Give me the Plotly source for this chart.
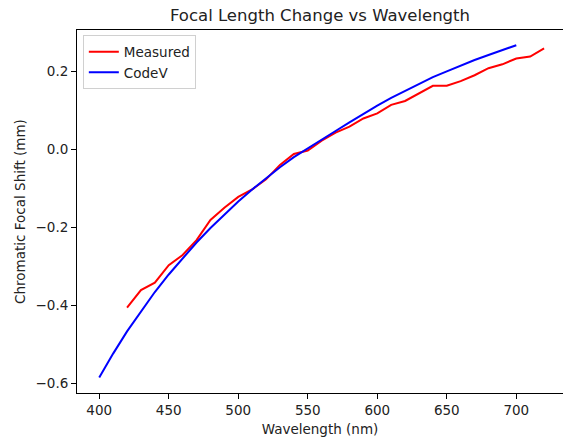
import plotly.graph_objects as go

# Measured data (nm, mm)
measured_wl = [420, 430, 440, 450, 460, 470, 480, 490, 500, 510, 520, 530, 540, 550,
               560, 570, 580, 590, 600, 610, 620, 630, 640, 650, 660, 670, 680, 690,
               700, 710, 720]
measured_shift = [-0.406, -0.361, -0.342, -0.297, -0.271, -0.233, -0.181, -0.150, -0.122,
                  -0.103, -0.077, -0.040, -0.012, -0.003, 0.022, 0.043, 0.058, 0.079,
                  0.092, 0.114, 0.124, 0.144, 0.163, 0.163, 0.175, 0.190, 0.208, 0.218,
                  0.233, 0.238, 0.259]

# CodeV prediction
codev_wl = [400, 410, 420, 430, 440, 450, 460, 470, 480, 490, 500, 510, 520, 530, 540,
            550, 560, 570, 580, 590, 600, 610, 620, 630, 640, 650, 660, 670, 680, 690, 700]
codev_shift = [-0.585, -0.524, -0.467, -0.415, -0.366, -0.321, -0.279, -0.239, -0.202,
               -0.167, -0.134, -0.103, -0.074, -0.046, -0.020, 0.003, 0.025, 0.047,
               0.069, 0.091, 0.112, 0.132, 0.150, 0.168, 0.185, 0.200, 0.215, 0.229,
               0.242, 0.255, 0.267]

x_ticks = [400, 450, 500, 550, 600, 650, 700]
y_ticks = [-0.6, -0.4, -0.2, 0.0, 0.2]

FONT = "DejaVu Sans"

fig = go.Figure()
fig.add_trace(go.Scatter(x=measured_wl, y=measured_shift, mode="lines", name="Measured",
                         line=dict(color="red", width=2)))
fig.add_trace(go.Scatter(x=codev_wl, y=codev_shift, mode="lines", name="CodeV",
                         line=dict(color="blue", width=2)))

axis_common = dict(showgrid=False, zeroline=False, showline=True, linecolor="black",
                   linewidth=1, ticks="outside", ticklen=5, tickwidth=1, tickcolor="black",
                   tickfont=dict(family=FONT, size=13.5, color="#222"))

fig.update_layout(
    width=563, height=440,
    margin=dict(l=77, r=0, t=30, b=47),
    paper_bgcolor="white", plot_bgcolor="white",
    font=dict(family=FONT, color="#222"),
    title=dict(text="Focal Length Change vs Wavelength", x=0.5, xref="paper",
               y=1 - 15 / 440, yref="container", yanchor="middle", xanchor="center",
               font=dict(family=FONT, size=16.5, color="#222")),
    xaxis=dict(range=[384, 733.6], tickvals=x_ticks, mirror=True,
               title=dict(text="Wavelength (nm)", font=dict(family=FONT, size=13.5), standoff=7),
               **axis_common),
    yaxis=dict(range=[-0.625, 0.306], tickvals=y_ticks, tickformat=".1f",
               title=dict(text="Chromatic Focal Shift (mm)", font=dict(family=FONT, size=13.5), standoff=6),
               **axis_common),
    legend=dict(x=0.012, y=0.985, xanchor="left", yanchor="top",
                bgcolor="rgba(255,255,255,0.8)", bordercolor="#d0d0d0", borderwidth=1,
                font=dict(family=FONT, size=13.5, color="#222"), tracegroupgap=0,
                itemwidth=30),
    showlegend=True,
)

fig.write_html("out.html")
